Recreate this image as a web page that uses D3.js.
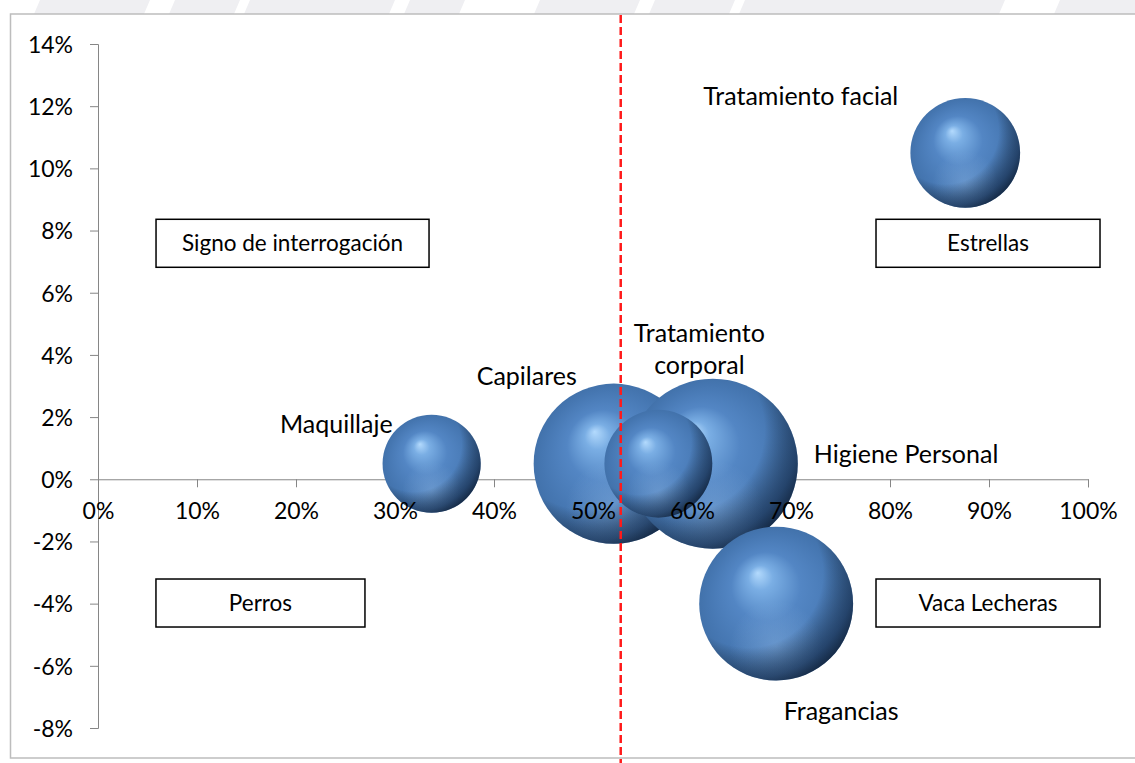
<!DOCTYPE html>
<html>
<head>
<meta charset="utf-8">
<script src="https://cdn.jsdelivr.net/npm/d3@7"></script>
<style>
  html, body { margin: 0; padding: 0; background: #fff; }
  svg { display: block; font-family: Lato, "Open Sans", sans-serif; }
</style>
</head>
<body>
<svg id="chart" width="1135" height="763"></svg>
<script>
// Categorías del portafolio (matriz BCG)
const categories = ["Maquillaje", "Capilares", "Higiene Personal", "Tratamiento corporal", "Tratamiento facial", "Fragancias"];
// Participación relativa de mercado (eje X)
const marketShare = [0.337, 0.521, 0.621, 0.566, 0.876, 0.685];
// Crecimiento del mercado (eje Y)
const marketGrowth = [0.005, 0.005, 0.005, 0.005, 0.105, -0.040];
// Tamaño de cada burbuja (ventas)
const salesSize = [24, 64, 72, 29, 30, 59];
// Línea divisoria de participación
const shareDivider = 0.528;
// Etiquetas de los ejes
const xTicks = [0, 0.1, 0.2, 0.3, 0.4, 0.5, 0.6, 0.7, 0.8, 0.9, 1.0];
const yTicks = [-0.08, -0.06, -0.04, -0.02, 0, 0.02, 0.04, 0.06, 0.08, 0.10, 0.12, 0.14];
// Cuadrantes
const quadrantNames = ["Signo de interrogación", "Estrellas", "Perros", "Vaca Lecheras"];

const svg = d3.select("#chart");
const W = 1135, H = 763;

const x = d3.scaleLinear().domain([0, 1]).range([98, 1088]);
const y = d3.scaleLinear().domain([-0.08, 0.14]).range([728, 44]);
const r = d3.scaleSqrt().domain([0, d3.max(salesSize)]).range([0, 85]);
const pct = d => Math.round(d * 100) + "%";

// Gradientes de la esfera
const defs = svg.append("defs");
const base = defs.append("radialGradient").attr("id", "sphereBase")
  .attr("cx", 0.5).attr("cy", 0.5).attr("r", 0.5).attr("fx", 0.38).attr("fy", 0.3);
[[0, "#b3dafd"], [0.16, "#7aaee4"], [0.45, "#5386c4"], [0.85, "#4677b2"], [1, "#4272ab"]]
  .forEach(([o, c]) => base.append("stop").attr("offset", o).attr("stop-color", c));
const shade = defs.append("radialGradient").attr("id", "sphereShade")
  .attr("cx", 0.32).attr("cy", 0.3).attr("r", 0.88);
[[0, "#000", 0], [0.55, "#000", 0], [0.78, "#06142a", 0.5], [1, "#01060e", 1]]
  .forEach(([o, c, a]) => shade.append("stop").attr("offset", o).attr("stop-color", c).attr("stop-opacity", a));
const glow = defs.append("radialGradient").attr("id", "sphereGlow")
  .attr("cx", 0.5).attr("cy", 0.78).attr("r", 0.3);
[[0, "#9cc4ef", 0.35], [1, "#9cc4ef", 0]]
  .forEach(([o, c, a]) => glow.append("stop").attr("offset", o).attr("stop-color", c).attr("stop-opacity", a));

// Franja superior de fondo
svg.append("rect").attr("x", 0).attr("y", 0).attr("width", W).attr("height", 14).attr("fill", "#efeff2");
[[0, 40], [150, 175], [240, 250], [395, 410], [465, 540], [640, 655], [735, 745], [1005, 1060]].forEach(([a, b]) => {
  svg.append("polygon")
    .attr("points", `${a},0 ${b},0 ${b - 6},14 ${a - 6},14`)
    .attr("fill", "#fff");
});

// Marco del gráfico
svg.append("rect")
  .attr("x", 10.5).attr("y", 14).attr("width", 1140).attr("height", 744)
  .attr("fill", "#fff").attr("stroke", "#bdbdbd").attr("stroke-width", 1.5);

// Ejes: líneas debajo de las burbujas, textos encima
const axisColor = "#868686";
const styleTicks = g => g.selectAll(".tick text").attr("fill", "#000").style("font-size", "23px")
  .style("font-family", "Lato, 'Open Sans', sans-serif");
const xAxisGen = d3.axisBottom(x).tickValues(xTicks).tickFormat(pct).tickSize(8).tickPadding(15);

const yAxis = svg.append("g").attr("transform", `translate(${x(0)},0)`)
  .call(d3.axisLeft(y).tickValues(yTicks).tickFormat(pct).tickSize(8).tickPadding(17));
yAxis.select(".domain").attr("stroke", axisColor);
yAxis.selectAll(".tick line").attr("stroke", axisColor);
styleTicks(yAxis);
yAxis.selectAll(".tick text").attr("dy", "0.36em");

const xAxisLines = svg.append("g").attr("transform", `translate(0,${y(0)})`).call(xAxisGen);
xAxisLines.select(".domain").attr("stroke", axisColor);
xAxisLines.selectAll(".tick line").attr("stroke", axisColor);
xAxisLines.selectAll(".tick text").remove();

// Burbujas
const data = categories.map((c, i) => ({
  name: c, x: marketShare[i], y: marketGrowth[i], size: salesSize[i]
}));
const bubbles = svg.append("g").selectAll("g").data(data).join("g")
  .attr("transform", d => `translate(${x(d.x)},${y(d.y)})`);
bubbles.append("circle").attr("r", d => r(d.size)).attr("fill", "url(#sphereBase)");
bubbles.append("circle").attr("r", d => r(d.size)).attr("fill", "url(#sphereGlow)");
bubbles.append("circle").attr("r", d => r(d.size)).attr("fill", "url(#sphereShade)");

const xAxisText = svg.append("g").attr("transform", `translate(0,${y(0)})`).call(xAxisGen);
xAxisText.select(".domain").remove();
xAxisText.selectAll(".tick line").remove();
styleTicks(xAxisText);
xAxisText.selectAll(".tick text").attr("dy", "0.71em");

// Etiquetas de las burbujas (desplazamiento respecto al centro)
const labelOffset = {
  "Maquillaje":           { dx: -39, dy: -31, anchor: "end" },
  "Capilares":            { dx: -37, dy: -79, anchor: "end" },
  "Higiene Personal":     { dx: 101, dy: -1, anchor: "start" },
  "Tratamiento corporal": { dx: 41, dy: -122, anchor: "middle", lines: ["Tratamiento", "corporal"] },
  "Tratamiento facial":   { dx: -67, dy: -48, anchor: "end" },
  "Fragancias":           { dx: 65, dy: 116, anchor: "middle" }
};
const labels = svg.append("g").style("font-size", "25px").attr("fill", "#000");
data.forEach(d => {
  const o = labelOffset[d.name];
  const t = labels.append("text")
    .attr("x", x(d.x) + o.dx).attr("y", y(d.y) + o.dy)
    .attr("text-anchor", o.anchor);
  (o.lines || [d.name]).forEach((ln, i) => {
    t.append("tspan").attr("x", x(d.x) + o.dx).attr("dy", i === 0 ? 0 : 32).text(ln);
  });
});

// Línea divisoria roja
svg.append("line")
  .attr("x1", x(shareDivider)).attr("x2", x(shareDivider))
  .attr("y1", 15).attr("y2", H)
  .attr("stroke", "#ff1a1a").attr("stroke-width", 2.5).attr("stroke-dasharray", "8,4");

// Cuadros de los cuadrantes (centro en unidades de datos)
const quadrantPos = [
  { cx: 0.1965, cy: 0.0759, w: 273 },
  { cx: 0.8990, cy: 0.0759, w: 224 },
  { cx: 0.1641, cy: -0.0398, w: 209 },
  { cx: 0.8990, cy: -0.0398, w: 224 }
];
quadrantNames.forEach((name, i) => {
  const p = quadrantPos[i];
  const g = svg.append("g").attr("transform", `translate(${x(p.cx)},${y(p.cy)})`);
  g.append("rect").attr("x", -p.w / 2).attr("y", -24).attr("width", p.w).attr("height", 48)
    .attr("fill", "#fff").attr("stroke", "#000").attr("stroke-width", 1.5);
  g.append("text").attr("text-anchor", "middle").attr("dy", "0.35em")
    .style("font-size", "22.5px").attr("fill", "#000").text(name);
});
</script>
</body>
</html>
